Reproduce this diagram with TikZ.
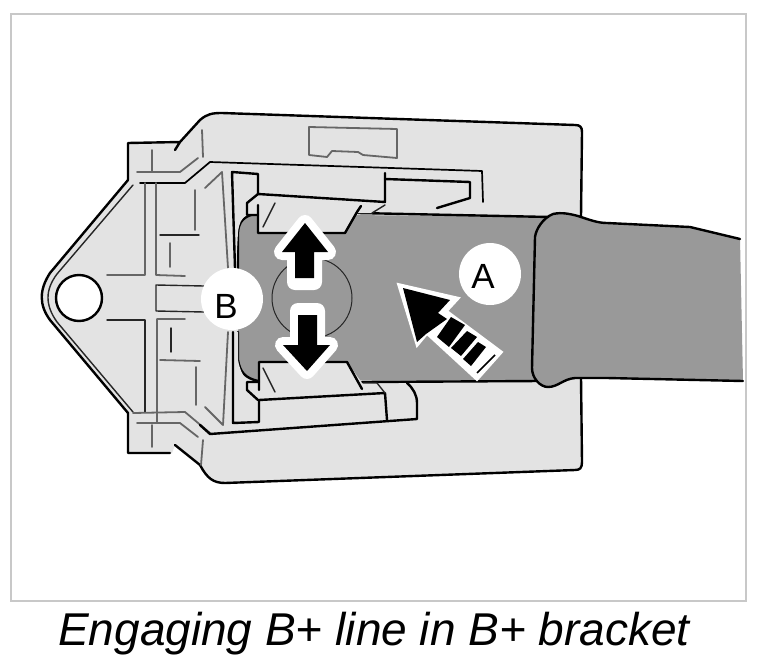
\documentclass[tikz,border=0pt]{standalone}
\usepackage{fontspec}
\setmainfont{Liberation Sans}
\definecolor{bodygray}{HTML}{E3E3E3}
\definecolor{cablegray}{HTML}{999999}
\definecolor{linegray}{HTML}{666666}
\definecolor{framegray}{HTML}{C8C8C8}
\tikzset{
  ink/.style={draw=black,line width=2.4pt,line join=round,line cap=round},
  thinink/.style={draw=black!85,line width=1.4pt,line join=round,line cap=round},
  grayink/.style={draw=linegray,line width=1.8pt,line join=round,line cap=round},
  labeldisc/.style={circle,fill=white,minimum size=62pt,inner sep=0pt},
  labeltext/.style={inner sep=0pt,font=\fontsize{35}{35}\selectfont},
  halo/.style={draw=white,fill=white,line width=16pt,line join=round},
  arrowfill/.style={fill=black}
}
\begin{document}
\begin{tikzpicture}[x=1pt,y=-1pt]
\useasboundingbox (0,0) rectangle (759,661);
\fill[white] (0,0) rectangle (759,661);
\draw[framegray,line width=2pt] (11,14) rectangle (746,601);
% bracket body
\path[fill=bodygray] (128,143) -- (180,142) -- (200,120) .. controls (207,114) and (212,113) .. (222,113)
  -- (575,125) .. controls (580,125) and (582,127) .. (582,132) -- (582,462) .. controls (582,468) and (580,470) .. (575,470)
  -- (225,483) .. controls (213,483) and (207,478) .. (200,465) -- (175,445) -- (172,453) -- (128,453) -- (128,413)
  -- (50,320) .. controls (39,305) and (39,290) .. (50,273) -- (128,180) -- cycle;
\draw[ink] (128,180) -- (50,273) .. controls (39,290) and (39,305) .. (50,320) -- (128,413) -- (128,453) -- (170,453)
  (175,445) -- (200,465) .. controls (207,478) and (213,483) .. (225,483) -- (575,470) .. controls (580,470) and (582,468) .. (582,462) -- (581,378)
  (581,216) -- (582,132) .. controls (582,127) and (580,125) .. (575,125) -- (222,113) .. controls (212,113) and (207,114) .. (200,120) -- (180,142) -- (175,150)
  (180,142) -- (128,143) -- (128,180);
\draw[thinink] (133,185) -- (57,274) .. controls (45,290) and (45,305) .. (57,322) -- (133,412);
\draw[ink,fill=white] (79,298) circle[radius=23];
% inner lines of the bracket
\draw[grayink] (202,130) -- (203,157) (152,150) -- (152,172) (137,172) -- (180,172) -- (198,158);
\draw[ink,line width=1.7pt] (140,183) -- (185,183) -- (210,162) -- (482,171) -- (483,202);
\draw[grayink] (145,183) -- (145,275) -- (107,275);
\draw[grayink] (156,183) -- (156,275) -- (185,276);
\draw[grayink] (195,190) -- (195,230) (170,243) -- (170,267);
\draw[thinink] (160,235) -- (199,235);
\draw[thinink] (204,286) -- (156,285) -- (156,311) -- (204,312);
\draw[thinink] (107,320) -- (145,320) -- (145,412);
\draw[grayink] (133,413) -- (185,412) -- (210,433);
\draw[grayink] (157,319) -- (185,319) (157,319) -- (157,423);
\draw[thinink] (171,328) -- (171,352);
\draw[grayink] (160,360) -- (200,361) (196,367) -- (196,405);
\draw[grayink] (137,423) -- (180,423) -- (198,437) (152,425) -- (152,447) (203,440) -- (201,465);
\draw[grayink] (205,188) -- (222,172) -- (228,268) (228,332) -- (223,425) -- (205,407);
% window
\draw[grayink] (309,127) -- (397,129) -- (397,158) -- (363,155) -- (358,152) -- (332,151) -- (327,157) -- (309,155) -- cycle;
% cable inside the bracket
\path[fill=cablegray] (250,214) -- (550,217) -- (550,381) -- (255,380) .. controls (245,378) and (240,372) .. (238,360) -- (238,232) .. controls (239,222) and (243,216) .. (250,214) -- cycle;
\draw[ink] (358,213) -- (550,217) (362,382) -- (540,381);
\draw[ink] (238,268) -- (238,232) .. controls (239,222) and (243,216) .. (258,213);
\draw[ink] (238,332) -- (238,360) .. controls (240,372) and (245,378) .. (258,381);
\draw[thinink,line width=1pt] (312,298) circle[radius=40];
% upper tab
\path[fill=bodygray] (247,203) -- (258,194) -- (385,202) -- (372,213) -- (357,213) -- (345,233) -- (258,233) -- (258,215) -- (247,215) -- cycle;
\path[fill=bodygray] (233,172) -- (258,174) -- (258,194) -- (247,203) -- (247,215) .. controls (241,218) and (239,224) .. (238,232) -- (236,268) -- cycle;
\path[fill=bodygray] (258,174) -- (385,173) -- (385,202) -- (258,194) -- cycle;
\draw[ink] (235,268) -- (232,172) -- (258,174) -- (258,194) -- (385,202) -- (385,173);
\draw[ink] (258,194) -- (247,203) -- (247,215) -- (258,215);
\draw[ink] (258,205) -- (258,233) -- (345,233) -- (357,212) -- (361,206);
\draw[thinink] (385,205) -- (372,213) (275,203) -- (263,227);
\draw[ink] (385,179) -- (470,182) -- (470,198) -- (437,208);
% lower tab
\path[fill=bodygray] (247,382) -- (259,390) -- (259,362) -- (347,362) -- (362,383) -- (377,383) -- (385,393) -- (258,400) -- (247,390) -- cycle;
\path[fill=bodygray] (233,332) -- (238,332) -- (238,360) .. controls (240,372) and (245,378) .. (247,382) -- (247,390) -- (258,400) -- (259,422) -- (233,423) -- cycle;
\path[fill=bodygray] (258,400) -- (385,393) -- (407,383) .. controls (413,388) and (417,395) .. (417,403) -- (417,419) -- (259,424) -- cycle;
\draw[ink] (233,332) -- (233,423) -- (259,422) -- (259,400) -- (385,393) -- (387,420);
\draw[ink] (258,400) -- (247,390) -- (247,382) -- (259,382);
\draw[ink] (259,390) -- (259,362) -- (347,362) -- (362,389);
\draw[thinink] (363,383) -- (377,383) -- (385,393) (263,368) -- (275,392);
\draw[ink] (407,383) .. controls (413,388) and (417,395) .. (417,403) -- (417,419) -- (210,434) -- (200,425);
% sleeve
\path[fill=cablegray] (553,214) .. controls (562,212) and (570,214) .. (578,216) .. controls (590,220) and (598,223) .. (607,223) -- (690,227) -- (740,239) -- (743,381) -- (607,378) -- (575,378) .. controls (563,379) and (558,387) .. (548,387) .. controls (540,387) and (532,378) .. (532,368) -- (535,237) .. controls (536,229) and (543,218) .. (553,214) -- cycle;
\draw[ink] (740,239) -- (690,227) -- (607,223) .. controls (598,223) and (590,220) .. (578,216) .. controls (570,214) and (562,212) .. (553,214) .. controls (543,218) and (536,229) .. (535,237) -- (532,368) .. controls (532,378) and (540,387) .. (548,387) .. controls (558,387) and (563,379) .. (575,378) -- (607,378) -- (743,381);
% up and down arrows
\path[halo] (305,223) -- (328,252) -- (314,252) -- (314,282) -- (295,282) -- (295,252) -- (282,252) -- cycle;
\path[arrowfill] (305,223) -- (328,252) -- (314,252) -- (314,278) -- (295,278) -- (295,252) -- (282,252) -- cycle;
\path[halo] (307,371) -- (330,345) -- (317,345) -- (317,311) -- (298,311) -- (298,345) -- (283,345) -- cycle;
\path[arrowfill] (307,371) -- (330,345) -- (317,345) -- (317,315) -- (298,315) -- (298,345) -- (283,345) -- cycle;
% insertion arrow
\path[fill=white,draw=white,line width=2pt,line join=miter] (398,284) -- (459,298) -- (447,311) -- (502,352) -- (477,380) -- (427,334) -- (417,346) -- cycle;
\path[arrowfill] (403,288) -- (450,300) -- (438,313) -- (447,319) -- (426,334) -- (417,342) -- cycle;
\path[arrowfill] (451,317) -- (465,325) -- (449,347) -- (437,337) -- cycle;
\path[arrowfill] (467,331) -- (477,337) -- (461,356) -- (451,348) -- cycle;
\path[arrowfill] (478,342) -- (486,347) -- (471,366) -- (463,359) -- cycle;
\draw[black,line width=1.6pt] (495,355) -- (477,373);
% labels
\node[labeldisc] (discA) at (490,274) {};
\node[labeltext] (labA) at (483,276) {A};
\node[labeldisc] (discB) at (232,299) {};
\node[labeltext] (labB) at (226,306) {B};
\node[inner sep=0pt,font=\fontsize{46}{46}\selectfont\itshape] (caption) at (374,634) {Engaging B+ line in B+ bracket};
\end{tikzpicture}
\end{document}
